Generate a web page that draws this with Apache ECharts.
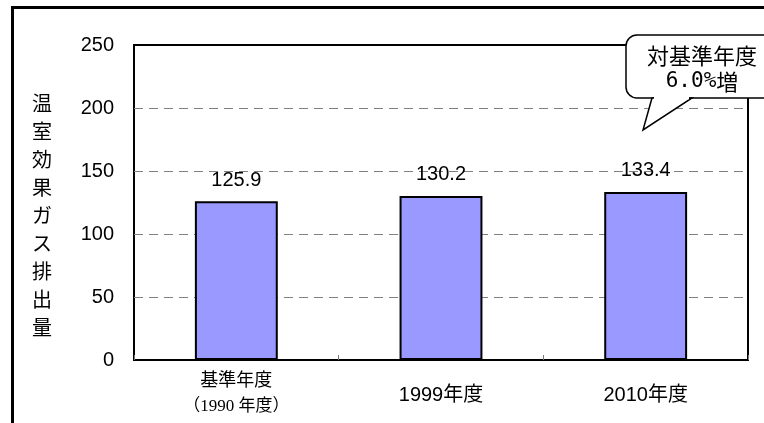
<!DOCTYPE html>
<html>
<head>
<meta charset="utf-8">
<script src="https://cdn.jsdelivr.net/npm/echarts@6/dist/echarts.min.js"></script>
<style>
  html, body { margin: 0; padding: 0; background: #fff; }
  #chart { width: 764px; height: 423px; }
</style>
</head>
<body>
<div id="chart"></div>
<script>
// Greenhouse gas emissions by fiscal year
const categories = ['基準年度\n（1990 年度）', '1999年度', '2010年度'];
const emissions = [125.9, 130.2, 133.4];
const yTicks = [0, 50, 100, 150, 200, 250];
const axisTitle = '温室効果ガス排出量';
const calloutHead = '対基準年度';
const calloutRate = '6.0%';
const calloutTail = '増';

const FONT = "'Liberation Sans', 'Noto Sans CJK JP', sans-serif";
const CJK = "'Noto Sans CJK JP', sans-serif";
const MONO = "'DejaVu Sans Mono', 'Liberation Mono', monospace";

const chart = echarts.init(document.getElementById('chart'), null, { renderer: 'canvas' });

chart.setOption({
  backgroundColor: '#fff',
  animation: false,
  textStyle: { fontFamily: FONT, color: '#000' },
  grid: {
    left: 134, top: 45, right: 16, bottom: 63,
    show: true, borderColor: '#000', borderWidth: 2, backgroundColor: '#fff'
  },
  xAxis: {
    type: 'category',
    data: categories,
    axisLine: { show: true, lineStyle: { color: '#000', width: 2 } },
    axisTick: { show: true, inside: true, length: 5, lineStyle: { color: '#777', width: 1 } },
    axisLabel: {
      margin: 9,
      color: '#000',
      formatter: function (v) {
        if (v.indexOf('\n') >= 0) {
          const parts = v.split('\n');
          return '{a|' + parts[0] + '}\n{b|' + parts[1] + '}';
        }
        return '{c|' + v + '}';
      },
      rich: {
        a: { fontSize: 18, lineHeight: 25, fontFamily: FONT, color: '#000' },
        b: { fontSize: 17, lineHeight: 25, fontFamily: "'Liberation Serif', 'Noto Sans CJK JP', serif", color: '#000' },
        c: { fontSize: 20, lineHeight: 52, fontFamily: FONT, color: '#000' }
      }
    }
  },
  yAxis: {
    type: 'value',
    min: yTicks[0],
    max: yTicks[yTicks.length - 1],
    interval: yTicks[1] - yTicks[0],
    axisLine: { show: false },
    axisTick: { show: false },
    axisLabel: { fontSize: 20, color: '#000', margin: 20, fontFamily: FONT },
    splitLine: {
      show: true, showMinLine: false, showMaxLine: false,
      lineStyle: { color: '#808080', type: [9, 6], width: 1 }
    }
  },
  series: [{
    type: 'bar',
    data: emissions,
    barWidth: '40.5%',
    itemStyle: { color: '#9999ff', borderColor: '#000', borderWidth: 2 },
    label: {
      show: true,
      position: 'top',
      distance: 11,
      fontSize: 20,
      color: '#000',
      fontFamily: FONT,
      formatter: function (p) { return p.value.toFixed(1); }
    }
  }],
  graphic: [
    // outer frame
    {
      type: 'rect', z: 100, silent: true,
      shape: { x: 12.5, y: 7.5, width: 800, height: 500 },
      style: { fill: 'none', stroke: '#000', lineWidth: 3 }
    },
    // vertical axis title
    {
      type: 'text', z: 100, x: 42, y: 89,
      style: {
        text: axisTitle.split('').join('\n'),
        font: '20px ' + CJK,
        fill: '#000',
        lineHeight: 28,
        align: 'center',
        verticalAlign: 'top'
      }
    },
    // speech-bubble callout: body
    {
      type: 'rect', z: 100, silent: true,
      shape: { x: 626, y: 35, width: 200, height: 63, r: 11 },
      style: { fill: '#fff', stroke: '#000', lineWidth: 1.5 }
    },
    // callout tail
    {
      type: 'polygon', z: 101, silent: true,
      shape: { points: [[652, 98], [643, 130], [692, 98]] },
      style: { fill: '#fff', stroke: '#000', lineWidth: 1.5 }
    },
    // open the seam between body and tail
    {
      type: 'line', z: 102, silent: true,
      shape: { x1: 654, y1: 98, x2: 689, y2: 98 },
      style: { stroke: '#fff', lineWidth: 2.5 }
    },
    {
      type: 'text', z: 103, x: 702, y: 43,
      style: {
        text: '{h|' + calloutHead + '}\n{m|' + calloutRate + '}{h|' + calloutTail + '}',
        rich: {
          h: { fontSize: 22, fontFamily: CJK, lineHeight: 26, fill: '#000' },
          m: { fontSize: 21, fontFamily: MONO, lineHeight: 26, fill: '#000' }
        },
        fill: '#000',
        align: 'center',
        verticalAlign: 'top'
      }
    }
  ]
});
</script>
</body>
</html>
